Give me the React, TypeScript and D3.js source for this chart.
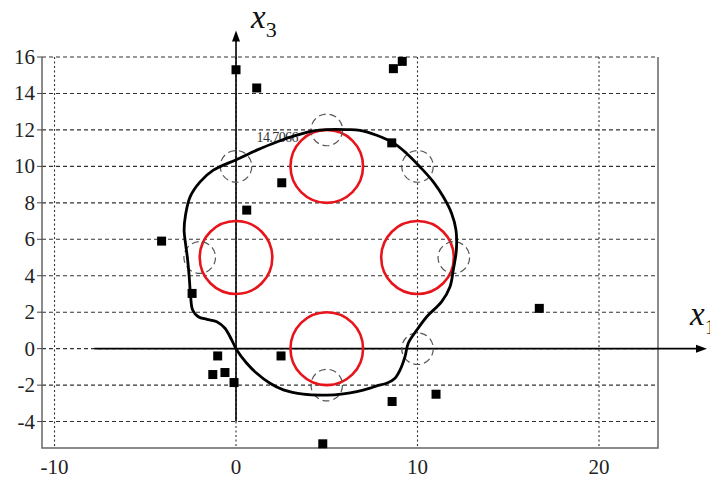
import React from 'react';
import * as d3 from 'd3';

// tick labels
const xTicks = [-10, 0, 10, 20];
const yTicks = [-4, -2, 0, 2, 4, 6, 8, 10, 12, 14, 16];

// black square markers (x1, x3)
const pointsX = [0, 1.14, 2.52, 0.59, -4.1, 8.67, 9.16, 8.58, -2.42, -1.01, -1.28, -0.61, -0.11, 2.48, 4.78, 16.71, 8.6, 11.02];
const pointsY = [15.3, 14.3, 9.1, 7.6, 5.9, 15.36, 15.76, 11.29, 3.03, -0.4, -1.42, -1.31, -1.86, -0.4, -5.22, 2.21, -2.9, -2.5];

// red circles
const redX = [0, 5, 10, 5];
const redY = [5, 10, 5, 0];
const redRadius = 2;

// small dashed circles
const dashX = [0, 5, 10, 12, 10, 5, -2];
const dashY = [10, 12, 10, 5, 0, -2, 5];
const dashRadius = 0.87;

// closed boundary curve
const boundary = [
    [-2.86, 6.5], [-2.78, 7.35], [-2.53, 8.33], [-1.98, 9.15], [-1.25, 9.79], [0.04, 10.38],
    [1.14, 10.89], [2.24, 11.34], [3.34, 11.71], [4.26, 11.95], [5.0, 12.02], [6.1, 12.02],
    [6.83, 11.98], [7.75, 11.71], [8.67, 11.29], [9.4, 10.71], [10.14, 9.97], [10.87, 9.15],
    [11.42, 8.33], [11.88, 7.42], [12.12, 6.5], [12.14, 5.41], [11.97, 4.31], [11.79, 3.4],
    [11.33, 2.58], [10.51, 1.75], [9.96, 1.02], [9.49, 0.3], [9.31, -0.44], [9.04, -1.17],
    [8.76, -1.62], [8.3, -1.9], [7.75, -2.04], [7.38, -2.17], [6.65, -2.36], [5.91, -2.48],
    [5.0, -2.55], [3.71, -2.5], [2.61, -2.26], [1.87, -1.9], [1.14, -1.35], [0.59, -0.8],
    [0.04, -0.07], [-0.24, 0.48], [-0.61, 1.12], [-1.06, 1.48], [-1.61, 1.61], [-2.08, 1.75],
    [-2.39, 2.12], [-2.5, 2.85], [-2.58, 3.95], [-2.68, 5.0], [-2.78, 5.75]
];

const valueLabel = '14.7066';

const SERIF = "'Liberation Serif'";

// plot frame in pixels
const left = 42, right = 658, top = 57, bottom = 448;

const x = d3.scaleLinear().domain([-10.69, 23.25]).range([left, right]);
const y = d3.scaleLinear().domain([-5.45, 16]).range([bottom, top]);

// extents of the drawn coordinate axes
const axisX0 = -7.8, axisX1 = 25.95;
const axisY0 = -4, axisY1 = 17.45;

const line = d3.line().x(d => x(d[0])).y(d => y(d[1])).curve(d3.curveCatmullRomClosed.alpha(0.5));

export default function App() {
    const sq = 9;
    return (
        <svg width={710} height={479}
            style={{ position: 'absolute', left: 0, top: 0, background: '#fff', display: 'block' }}>
            {/* horizontal dashed grid */}
            {yTicks.map(t => (
                <line key={'h' + t} x1={left} x2={right} y1={y(t)} y2={y(t)}
                    stroke="#333" strokeWidth={1.1} strokeDasharray="4,3" />
            ))}
            {/* vertical dotted grid */}
            {xTicks.map(t => (
                <line key={'v' + t} x1={x(t)} x2={x(t)} y1={top} y2={bottom}
                    stroke="#333" strokeWidth={1.1} strokeDasharray="2,2.5" />
            ))}
            {/* frame */}
            <path d={`M${left},${top}V${bottom}H${right}V${top}`} fill="none" stroke="#666" strokeWidth={1.5} />

            {/* left ticks + labels */}
            {yTicks.map(t => (
                <g key={'yt' + t}>
                    <line x1={left - 5} x2={left} y1={y(t)} y2={y(t)} stroke="#444" />
                    <text x={left - 7} y={y(t) + 7} textAnchor="end"
                        style={{ fontFamily: SERIF, fontSize: '21px' }} fill="#222">{String(t)}</text>
                </g>
            ))}
            {/* bottom labels */}
            {xTicks.map(t => (
                <text key={'xt' + t} x={x(t)} y={474} textAnchor="middle"
                    style={{ fontFamily: SERIF, fontSize: '21px' }} fill="#222">{String(t)}</text>
            ))}

            {/* coordinate axes */}
            <line x1={x(axisX0)} x2={x(axisX1) - 4} y1={y(0)} y2={y(0)} stroke="#000" strokeWidth={1.6} />
            <path d={`M${x(axisX1)},${y(0)}l-11,-4l0,8z`} fill="#000" />
            <line x1={x(0)} x2={x(0)} y1={y(axisY0)} y2={y(axisY1) + 4} stroke="#000" strokeWidth={1.6} />
            <path d={`M${x(0)},${y(axisY1)}l-4,11l8,0z`} fill="#000" />

            {/* value label */}
            <text x={256.5} y={141.5} style={{ fontFamily: SERIF, fontSize: '14px' }} fill="#333"
                textLength={42}>{valueLabel}</text>

            {/* red circles */}
            {redX.map((cx, i) => (
                <ellipse key={'r' + i} cx={x(cx)} cy={y(redY[i])}
                    rx={x(redRadius) - x(0)} ry={y(0) - y(redRadius)}
                    fill="none" stroke="#e8141b" strokeWidth={2.6} />
            ))}
            {/* dashed circles */}
            {dashX.map((cx, i) => (
                <ellipse key={'d' + i} cx={x(cx)} cy={y(dashY[i])}
                    rx={x(dashRadius) - x(0)} ry={y(0) - y(dashRadius)}
                    fill="none" stroke="#555" strokeWidth={1.2} strokeDasharray="7,4" />
            ))}

            {/* boundary */}
            <path d={line(boundary)} fill="none" stroke="#000" strokeWidth={2.8} />

            {/* squares */}
            {pointsX.map((px, i) => (
                <rect key={'p' + i} x={x(px) - sq / 2} y={y(pointsY[i]) - sq / 2} width={sq} height={sq} fill="#000" />
            ))}

            {/* axis names */}
            <text x={251} y={28} style={{ fontFamily: SERIF, fontSize: '33px' }} fill="#111">
                <tspan fontStyle="italic">x</tspan>
                <tspan dy={9} style={{ fontSize: '22px' }}>3</tspan>
            </text>
            <text x={690} y={325} style={{ fontFamily: SERIF, fontSize: '33px' }} fill="#111">
                <tspan fontStyle="italic">x</tspan>
                <tspan dy={9} style={{ fontSize: '22px' }}>1</tspan>
            </text>
        </svg>
    );
}
